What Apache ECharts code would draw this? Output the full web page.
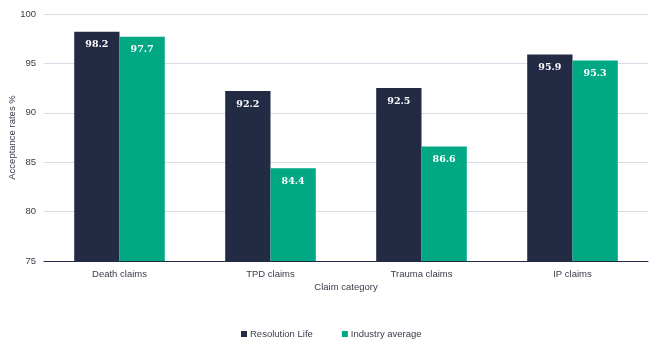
<!DOCTYPE html>
<html><head><meta charset="utf-8">
<script src="https://cdn.jsdelivr.net/npm/echarts@6/dist/echarts.min.js"></script>
<style>html,body{margin:0;padding:0;background:#fff}#c{width:664px;height:346px}</style>
</head><body><div id="c"></div>
<script>
const categories = ["Death claims", "TPD claims", "Trauma claims", "IP claims"];
const resolutionLife = [98.2, 92.2, 92.5, 95.9];
const industryAverage = [97.7, 84.4, 86.6, 95.3];
const yTicks = [75, 80, 85, 90, 95, 100];

const chart = echarts.init(document.getElementById('c'));
const lbl = {
  show: true, position: 'insideTop', distance: 8, color: '#fff',
  fontFamily: 'DejaVu Serif', fontWeight: 'bold', fontSize: 9.5,
  formatter: p => p.value.toFixed(1)
};
const txt = { fontFamily: 'Liberation Sans', fontSize: 9.5, color: '#383c4a' };
chart.setOption({
  animation: false,
  grid: { left: 44, right: 16, top: 14, bottom: 85, containLabel: false, outerBoundsMode: 'none' },
  legend: {
    bottom: 2, left: 236, itemWidth: 6, itemHeight: 6, itemGap: 29, icon: 'rect',
    textStyle: Object.assign({}, txt, { padding: [0,0,0,-2] }),
    data: ['Resolution Life', 'Industry average']
  },
  xAxis: {
    type: 'category', data: categories,
    name: 'Claim category', nameLocation: 'middle', nameGap: 21, nameMoveOverlap: false,
    nameTextStyle: txt,
    axisLine: { lineStyle: { color: '#222b45', width: 1 } },
    axisTick: { show: false },
    axisLabel: Object.assign({ margin: 8 }, txt)
  },
  yAxis: {
    type: 'value', min: yTicks[0], max: yTicks[yTicks.length - 1], interval: 5,
    name: 'Acceptance rates %', nameLocation: 'middle', nameGap: 27, nameMoveOverlap: false,
    nameTextStyle: txt,
    axisLine: { show: false }, axisTick: { show: false },
    axisLabel: Object.assign({ margin: 8 }, txt),
    splitLine: { lineStyle: { color: '#d9dbe6' } }
  },
  series: [
    { name: 'Resolution Life', type: 'bar', data: resolutionLife, barGap: '0%', barCategoryGap: '40%',
      itemStyle: { color: '#222a44' }, label: lbl },
    { name: 'Industry average', type: 'bar', data: industryAverage,
      itemStyle: { color: '#00a884' }, label: lbl }
  ]
});
</script></body></html>
